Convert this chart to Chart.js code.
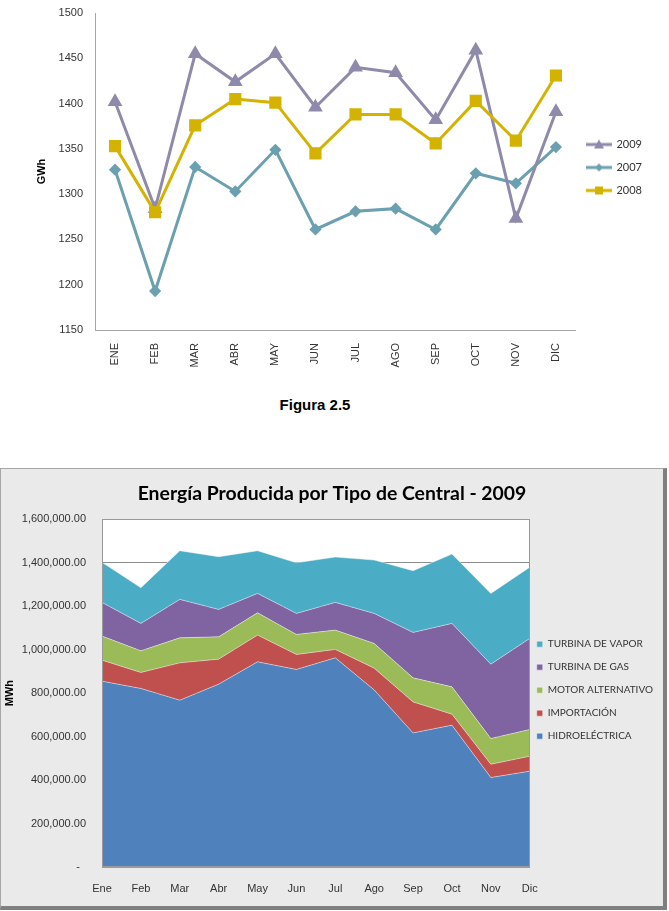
<!DOCTYPE html>
<html>
<head>
<meta charset="utf-8">
<script src="https://cdn.jsdelivr.net/npm/chart.js@4.4.0/dist/chart.umd.min.js"></script>
<style>
    body { margin: 0; background: #fff; width: 669px; height: 911px; position: relative; overflow: hidden; }
    #lineChart { position: absolute; left: 0; top: 0; }
    #caption { position: absolute; left: 0; width: 630px; top: 396px; text-align: center;
               font: bold 15px "Liberation Sans", Arial, sans-serif; color: #000; }
    #areaBox { position: absolute; left: 0; top: 468px; width: 662px; height: 437px; background: #EAEAEA;
               border: 1px solid #A6A6A6; border-right: 4px solid #7F7F7F; border-bottom: 4px solid #7F7F7F; }
    #areaChart { position: absolute; left: 0; top: 0; }
</style>
</head>
<body>
<canvas id="lineChart" width="669" height="380"></canvas>
<div id="caption">Figura 2.5</div>
<div id="areaBox"><canvas id="areaChart" width="668" height="437"></canvas></div>

<script>
// Figura 2.5 - GWh por mes
const meses = ['ENE', 'FEB', 'MAR', 'ABR', 'MAY', 'JUN', 'JUL', 'AGO', 'SEP', 'OCT', 'NOV', 'DIC'];
const gwh2009 = [1402, 1284, 1455, 1424, 1455, 1396, 1440, 1434, 1382, 1459, 1273, 1391];
const gwh2007 = [1327, 1193, 1330, 1303, 1349, 1261, 1281, 1284, 1261, 1323, 1312, 1352];
const gwh2008 = [1353, 1280, 1376, 1405, 1401, 1345, 1388, 1388, 1356, 1403, 1359, 1431];
const gwhMin = 1150, gwhMax = 1500, gwhStep = 50;

// Energia producida por tipo de central - 2009 (MWh)
const mesesCortos = ['Ene', 'Feb', 'Mar', 'Abr', 'May', 'Jun', 'Jul', 'Ago', 'Sep', 'Oct', 'Nov', 'Dic'];
const hidroelectrica = [855100, 821500, 767600, 841300, 944000, 909000, 962400, 815000, 617100, 652500, 411700, 440700];
const importacion = [96800, 73700, 171800, 115200, 123000, 69100, 38700, 100000, 142700, 50700, 61200, 69100];
const motorAlternativo = [110500, 99500, 115100, 102700, 102700, 92100, 88900, 113800, 110500, 125700, 118400, 122900];
const turbinaGas = [155200, 126200, 176900, 126100, 89300, 96700, 127600, 138100, 209100, 292000, 342100, 419100];
const turbinaVapor = [184200, 163900, 223800, 242300, 196200, 233000, 208600, 245500, 283700, 319100, 325600, 326900];
const mwhMax = 1600000, mwhStep = 200000;

Chart.defaults.font.family = '"Liberation Sans", Arial, sans-serif';
Chart.defaults.font.size = 11;
Chart.defaults.color = '#333';
Chart.defaults.animation = false;

const calibri = 'Lato, "Open Sans", sans-serif';

// nudge legend / title boxes a few pixels after layout
const boxShift = {
    id: 'boxShift',
    afterLayout(chart, args, opts) {
        [['legend', chart.legend], ['title', chart.titleBlock]].forEach(([key, box]) => {
            const d = opts[key];
            if (!box || !d) return;
            box.left += d[0]; box.right += d[0];
            box.top += d[1]; box.bottom += d[1];
        });
    }
};

// small line + marker picture for the legend
function legendIcon(color, shape) {
    const c = document.createElement('canvas');
    c.width = 26; c.height = 12;
    const g = c.getContext('2d');
    g.strokeStyle = color; g.lineWidth = 3;
    g.beginPath(); g.moveTo(0, 6); g.lineTo(26, 6); g.stroke();
    g.fillStyle = color;
    g.beginPath();
    if (shape === 'triangle') { g.moveTo(13, 1); g.lineTo(18, 10); g.lineTo(8, 10); }
    else if (shape === 'rectRot') { g.moveTo(13, 2); g.lineTo(17, 6); g.lineTo(13, 10); g.lineTo(9, 6); }
    else { g.rect(9, 2, 8, 8); }
    g.closePath(); g.fill();
    return c;
}

const lineSeries = [
    { label: '2009', data: gwh2009, color: '#8E8AAB', shape: 'triangle', radius: 5.5, order: 1 },
    { label: '2007', data: gwh2007, color: '#6AA0B0', shape: 'rectRot', radius: 4, order: 2 },
    { label: '2008', data: gwh2008, color: '#D4B200', shape: 'rect', radius: 6.5, order: 0 }
];

new Chart(document.getElementById('lineChart'), {
    type: 'line',
    data: {
        labels: meses,
        datasets: lineSeries.map(s => ({
            label: s.label,
            data: s.data,
            borderColor: s.color,
            backgroundColor: s.color,
            pointBackgroundColor: s.color,
            pointBorderColor: s.color,
            pointStyle: s.shape,
            pointRadius: s.radius,
            borderWidth: 3,
            order: s.order,
            tension: 0
        }))
    },
    options: {
        responsive: false,
        layout: { autoPadding: false, padding: { top: 13, left: 35, right: 16, bottom: 5 } },
        plugins: {
            tooltip: { enabled: false },
            boxShift: { legend: [-1, -4] },
            legend: {
                position: 'right',
                fullSize: false,
                labels: {
                    usePointStyle: true,
                    pointStyleWidth: 24,
                    padding: 12,
                    color: '#333',
                    font: { family: calibri, size: 11 },
                    generateLabels: () => lineSeries.map((s, i) => ({
                        text: s.label,
                        pointStyle: legendIcon(s.color, s.shape),
                        fillStyle: s.color,
                        strokeStyle: s.color,
                        lineWidth: 0,
                        fontColor: '#333',
                        hidden: false,
                        datasetIndex: i
                    }))
                }
            }
        },
        scales: {
            x: {
                offset: true,
                grid: { display: false, offset: true, drawTicks: false },
                border: { display: true, color: '#A6A6A6', width: 1 },
                ticks: { minRotation: 90, maxRotation: 90, padding: 13, color: '#333' },
                afterFit: s => { s.height = 45; }
            },
            y: {
                min: gwhMin,
                max: gwhMax,
                grid: { display: false, drawTicks: false },
                border: { display: true, color: '#A6A6A6', width: 1 },
                ticks: { stepSize: gwhStep, padding: 12, color: '#333', callback: v => String(v) },
                title: { display: true, text: 'GWh', color: '#000', font: { weight: 'bold', size: 11 },
                         padding: { top: 0, bottom: 0 } },
                afterFit: s => { s.width = 60; s.paddingTop = 0; }
            }
        }
    },
    plugins: [boxShift]
});

// white plot area + thin frame like the spreadsheet chart
const plotFrame = {
    id: 'plotFrame',
    beforeDraw(chart) {
        const { ctx, chartArea: a } = chart;
        ctx.save();
        ctx.fillStyle = '#fff';
        ctx.fillRect(a.left, a.top, a.width, a.height);
        ctx.restore();
    },
    afterDatasetsDraw(chart) {
        const { ctx, chartArea: a } = chart;
        ctx.save();
        ctx.strokeStyle = '#9A9A9A';
        ctx.lineWidth = 1;
        ctx.strokeRect(Math.round(a.left) + 0.5, Math.round(a.top) + 0.5,
                       Math.round(a.width) - 1, Math.round(a.height) - 1);
        ctx.restore();
    }
};

const areaSeries = [
    { label: 'HIDROELÉCTRICA', data: hidroelectrica, color: '#4F81BD' },
    { label: 'IMPORTACIÓN', data: importacion, color: '#C0504D' },
    { label: 'MOTOR ALTERNATIVO', data: motorAlternativo, color: '#9BBB59' },
    { label: 'TURBINA DE GAS', data: turbinaGas, color: '#8064A2' },
    { label: 'TURBINA DE VAPOR', data: turbinaVapor, color: '#4BACC6' }
];

new Chart(document.getElementById('areaChart'), {
    type: 'line',
    data: {
        labels: mesesCortos,
        datasets: areaSeries.map((s, i) => ({
            label: s.label,
            data: s.data,
            backgroundColor: s.color,
            borderColor: 'rgba(255,255,255,0.45)',
            borderWidth: 1,
            pointRadius: 0,
            fill: i === 0 ? 'origin' : '-1',
            tension: 0
        }))
    },
    options: {
        responsive: false,
        layout: { autoPadding: false, padding: { top: 0, left: 2, right: 0, bottom: 0 } },
        plugins: {
            tooltip: { enabled: false },
            boxShift: { legend: [-6, -3], title: [-4, 0] },
            title: {
                display: true,
                text: 'Energía Producida por Tipo de Central - 2009',
                color: '#000',
                font: { family: calibri, weight: 'bold', size: 19.4 },
                padding: { top: 13, bottom: 14 }
            },
            legend: {
                position: 'right',
                fullSize: false,
                reverse: true,
                labels: {
                    boxWidth: 6,
                    boxHeight: 6,
                    padding: 13,
                    color: '#333',
                    font: { family: calibri, size: 10 }
                }
            }
        },
        scales: {
            x: {
                grid: { display: false, drawTicks: false },
                border: { display: true, color: '#9A9A9A' },
                ticks: { padding: 15, color: '#333', maxRotation: 0 },
                afterFit: s => { s.height = 39; }
            },
            y: {
                stacked: true,
                min: 0,
                max: mwhMax,
                grid: { color: '#8C8C8C', drawTicks: false },
                border: { display: true, color: '#9A9A9A' },
                ticks: {
                    stepSize: mwhStep,
                    padding: 16,
                    color: '#333',
                    callback: v => v === 0 ? '-  ' :
                        v.toLocaleString('en-US', { minimumFractionDigits: 2, maximumFractionDigits: 2 })
                },
                title: { display: true, text: 'MWh', color: '#000', font: { weight: 'bold', size: 11 },
                         padding: { top: 0, bottom: 0 } },
                afterFit: s => { s.width = 99; }
            }
        }
    },
    plugins: [plotFrame, boxShift]
});
</script>
</body>
</html>
